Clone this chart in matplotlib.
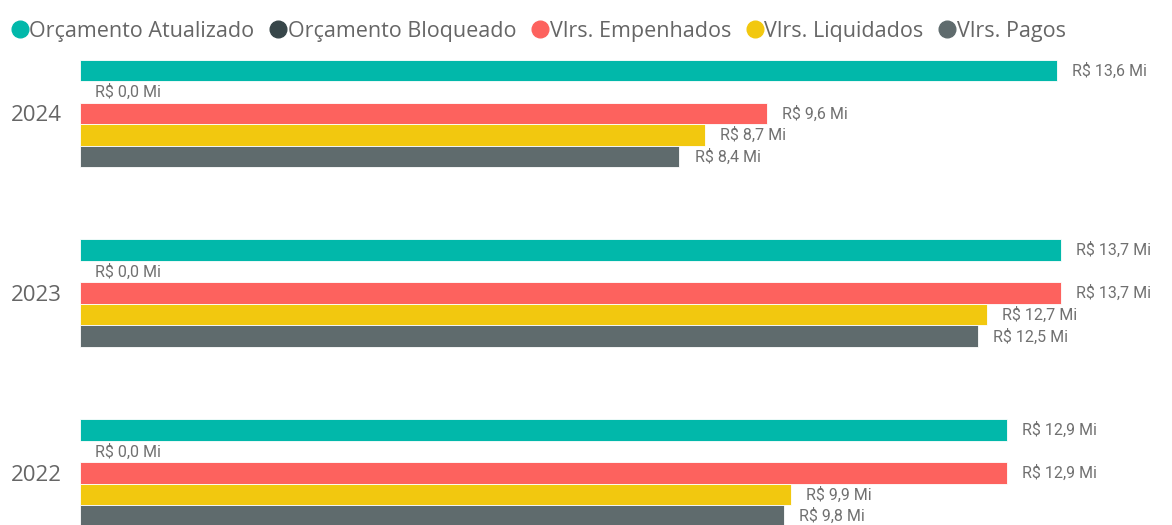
import matplotlib.pyplot as plt
from matplotlib.lines import Line2D
import numpy as np

# data (R$ milhões)
years = ["2022", "2023", "2024"]
series = ["Orçamento Atualizado", "Orçamento Bloqueado", "Vlrs. Empenhados",
          "Vlrs. Liquidados", "Vlrs. Pagos"]
atualizado = [12.94, 13.70, 13.64]
bloqueado = [0.0, 0.0, 0.0]
empenhados = [12.94, 13.70, 9.59]
liquidados = [9.93, 12.67, 8.73]
pagos = [9.83, 12.54, 8.37]
colors = ["#01B8AA", "#374649", "#FD625E", "#F2C80F", "#5F6B6D"]

values = [atualizado, bloqueado, empenhados, liquidados, pagos]

fig = plt.figure(figsize=(11.72, 5.25), dpi=100)
ax = fig.add_axes([80 / 1172, 0, 1092 / 1172, 470 / 525])

h = 0.1196
ypos = np.arange(len(years))
for i, (vals, col) in enumerate(zip(values, colors)):
    y = ypos + (2 - i) * h
    ax.barh(y, vals, height=h, color=col, edgecolor="white", linewidth=0.6)
    for yy, v in zip(y, vals):
        txt = "R$ {:.1f} Mi".format(v).replace(".", ",")
        ax.annotate(txt, (v, yy), xytext=(11, 0), textcoords="offset points",
                    va="center", ha="left", fontsize=11.5, color="#707070",
                    family="Roboto")

ax.set_xlim(0, 1092 / 71.6)
ax.set_ylim(-0.289, 2.325)
ax.set_yticks(ypos)
ax.set_yticklabels(years, fontsize=16, color="#666666", family="Open Sans")
ax.tick_params(axis="y", length=0, pad=13)
ax.set_xticks([])
for s in ax.spines.values():
    s.set_visible(False)

handles = [Line2D([], [], marker="o", linestyle="", markersize=12,
                  markerfacecolor=c, markeredgecolor=c) for c in colors]
fig.legend(handles, series, loc="upper left", bbox_to_anchor=(-0.009, 0.997),
           ncol=5, frameon=False, handletextpad=-0.05, columnspacing=0.6,
           prop={"family": "Open Sans", "size": 15.5}, labelcolor="#666666",
           handlelength=1.0)

fig.savefig("out.png", dpi=100)
